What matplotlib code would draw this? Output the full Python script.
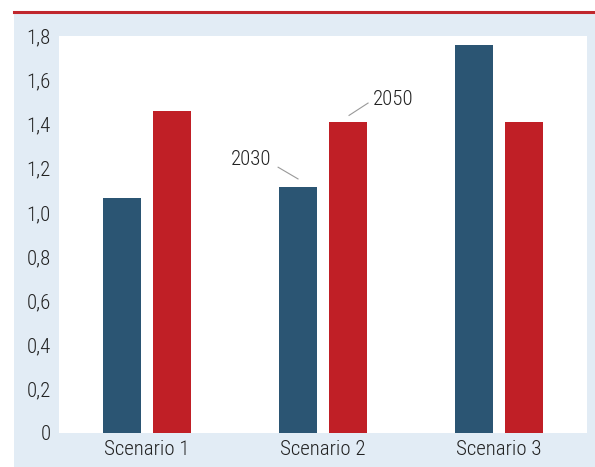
import matplotlib
matplotlib.use('Agg')
import matplotlib.pyplot as plt
import numpy as np
from matplotlib.patches import Rectangle
from matplotlib.lines import Line2D

plt.rcParams['font.family'] = ['Roboto Condensed', 'Roboto', 'DejaVu Sans']
plt.rcParams['font.weight'] = 'light'

scenarios = ['Scenario 1', 'Scenario 2', 'Scenario 3']
values_2030 = [1.065, 1.115, 1.76]
values_2050 = [1.46, 1.41, 1.41]
yticks = [0, 0.2, 0.4, 0.6, 0.8, 1.0, 1.2, 1.4, 1.6, 1.8]

blue = '#2b5573'
red = '#c01f26'
panel = '#e2ecf5'
text_col = '#222222'

fig = plt.figure(figsize=(5.95, 4.67), dpi=100)
fig.patch.set_facecolor('white')

# light blue panel with red rule on top
fig.patches.append(Rectangle((14 / 595, 0), 1 - 14 / 595, (467 - 12) / 467,
                             transform=fig.transFigure, facecolor=panel,
                             edgecolor='none', zorder=-2))
fig.lines.append(Line2D([14 / 595, 1], [(467 - 12) / 467] * 2,
                        transform=fig.transFigure, color='#c0272d', lw=2.2,
                        zorder=-1))

ax = fig.add_axes([59 / 595, 34 / 467, 528 / 595, 397 / 467])
ax.set_facecolor('white')

x = np.arange(len(scenarios))
w = 0.22
off = 0.142
ax.bar(x - off, values_2030, w, color=blue)
ax.bar(x + off, values_2050, w, color=red)

ax.set_xlim(-0.5, 2.5)
ax.set_ylim(0, 1.8)
ax.set_yticks(yticks)
ax.set_yticklabels([('%g' % v).replace('.', ',') if v != 1.0 else '1,0' for v in yticks])
ax.set_xticks(x)
ax.set_xticklabels(scenarios)
ax.tick_params(length=0, labelsize=15, colors=text_col)
ax.tick_params(axis='x', pad=5)
ax.tick_params(axis='y', pad=6)
for s in ax.spines.values():
    s.set_visible(False)

# series labels on scenario 2
cx, top = 1 - off, values_2030[1]
ax.plot([cx - 0.113, cx], [top + 0.09, top + 0.037], color='#999999', lw=0.8)
ax.text(cx - 0.267, top + 0.123, '2030', fontsize=15, color=text_col,
        ha='center', va='center')
cx, top = 1 + off, values_2050[1]
ax.plot([cx + 0.006, cx + 0.114], [top + 0.03, top + 0.086], color='#999999', lw=0.8)
ax.text(cx + 0.256, top + 0.10, '2050', fontsize=15, color=text_col,
        ha='center', va='center')

plt.savefig('out.png', dpi=100)
